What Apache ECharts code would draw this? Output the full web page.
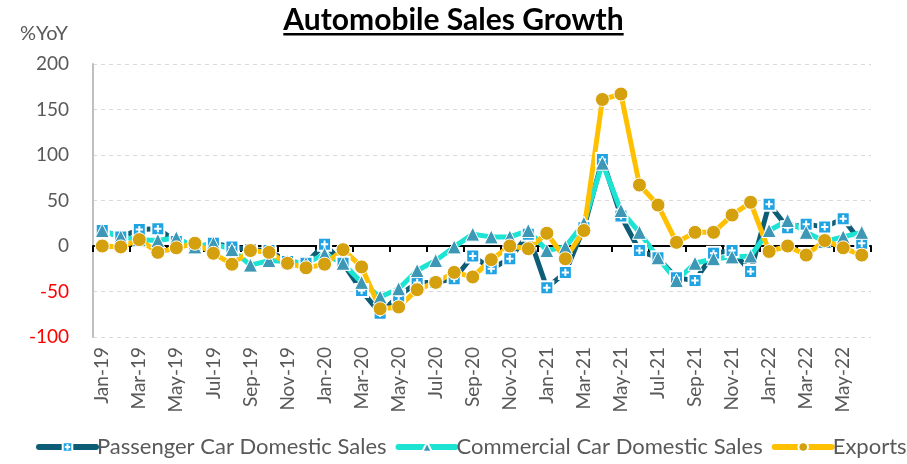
<!DOCTYPE html>
<html>
<head>
<meta charset="utf-8">
<script src="https://cdn.jsdelivr.net/npm/echarts@6/dist/echarts.min.js"></script>
<style>
html, body { margin: 0; padding: 0; background: #fff; }
#chart { width: 907px; height: 464px; }
</style>
</head>
<body>
<div id="chart"></div>
<script>
// months, Jan-19 .. Jun-22
var months = ['Jan-19','Feb-19','Mar-19','Apr-19','May-19','Jun-19','Jul-19','Aug-19','Sep-19','Oct-19','Nov-19','Dec-19',
    'Jan-20','Feb-20','Mar-20','Apr-20','May-20','Jun-20','Jul-20','Aug-20','Sep-20','Oct-20','Nov-20','Dec-20',
    'Jan-21','Feb-21','Mar-21','Apr-21','May-21','Jun-21','Jul-21','Aug-21','Sep-21','Oct-21','Nov-21','Dec-21',
    'Jan-22','Feb-22','Mar-22','Apr-22','May-22','Jun-22'];

// %YoY
var passenger = [17, 10, 18, 19, 5, -2, 3, -1, -4, -5, -17, -19,
    2, -19, -49, -74, -55, -40, -40, -36, -11, -25, -14, 13,
    -46, -29, 20, 95, 33, -5, -13, -35, -38, -8, -5, -28,
    46, 20, 24, 21, 30, 3];
var commercial = [17, 10, 7, 6, 9, -1, 3, -4, -21, -16, -17, -19,
    -9, -19, -40, -56, -47, -27, -16, -1, 13, 10, 10, 17,
    -5, -1, 25, 91, 39, 15, -13, -38, -19, -14, -12, -11,
    17, 28, 15, 5, 10, 15];
var exportsYoY = [0, -1, 7, -7, -2, 3, -8, -20, -5, -7, -19, -24,
    -20, -4, -23, -69, -67, -48, -40, -29, -34, -15, 0, -3,
    14, -14, 17, 161, 167, 67, 45, 4, 15, 15, 34, 48,
    -6, 0, -10, 6, -2, -10];

var yTicks = { min: -100, max: 200, step: 50 };

var FONT = 'Lato';
// blue square, the white plus comes from the border stroke
var plusBox = 'path://M0,0L10,0L10,10L0,10Z M5,2.2L5,7.8 M2.2,5L7.8,5';

// title width -> underline
var titleText = 'Automobile Sales Growth';
var titleSize = 30;
var mctx = document.createElement('canvas').getContext('2d');
mctx.font = 'bold ' + titleSize + 'px ' + FONT;
var titleW = mctx.measureText(titleText).width;

var chart = echarts.init(document.getElementById('chart'));

var option = {
    backgroundColor: '#fff',
    animation: false,
    title: [
        {
            text: titleText,
            left: 'center',
            top: 0,
            textStyle: { fontFamily: FONT, fontSize: titleSize, fontWeight: 'bold', color: '#000' }
        },
        {
            text: '%YoY',
            left: 15,
            top: 19,
            textStyle: { fontFamily: FONT, fontSize: 20, fontWeight: 'normal', color: '#595959' }
        }
    ],
    graphic: [
        {
            type: 'rect',
            shape: { x: 453.5 - titleW / 2, y: 33, width: titleW, height: 2.5 },
            style: { fill: '#000' }
        }
    ],
    legend: {
        bottom: 6,
        left: 36,
        width: 1000,
        padding: 0,
        itemWidth: 57,
        itemHeight: 12,
        itemGap: 9,
        lineStyle: { width: 6, cap: 'round' },
        textStyle: { fontFamily: FONT, fontSize: 22, color: '#595959', padding: [0, 0, 0, -4] },
        data: ['Passenger Car Domestic Sales', 'Commercial Car Domestic Sales', 'Exports']
    },
    grid: { left: 93, right: 36, top: 64, bottom: 127 },
    xAxis: [
        {
            type: 'category',
            data: months,
            boundaryGap: true,
            axisLine: { show: false, onZero: false },
            axisTick: { show: false },
            axisLabel: {
                interval: 1,
                rotate: 90,
                margin: 10,
                fontFamily: FONT,
                fontSize: 19,
                color: '#595959'
            },
            splitLine: { show: false }
        },
        {
            type: 'category',
            data: months,
            boundaryGap: true,
            position: 'bottom',
            axisLine: { show: true, onZero: true, onZeroAxisIndex: 0, lineStyle: { color: '#000', width: 2 } },
            axisTick: { show: true, interval: 1, length: 6, lineStyle: { color: '#000', width: 2 } },
            axisLabel: { show: false },
            splitLine: { show: false }
        }
    ],
    yAxis: {
        type: 'value',
        min: yTicks.min,
        max: yTicks.max,
        interval: yTicks.step,
        axisLine: { show: true, lineStyle: { color: '#BFBFBF', width: 2 } },
        axisTick: { show: false },
        axisLabel: {
            margin: 24,
            fontFamily: FONT,
            fontSize: 19,
            color: function (v) { return Number(v) < 0 ? '#FF0000' : '#595959'; }
        },
        splitLine: { show: true, lineStyle: { color: '#D9D9D9', width: 1, type: [4, 4] } }
    },
    series: [
        {
            name: 'Passenger Car Domestic Sales',
            type: 'line',
            data: passenger,
            symbol: plusBox,
            symbolSize: 13,
            showAllSymbol: true,
            lineStyle: { color: '#0E5D77', width: 5, join: 'round', cap: 'round' },
            itemStyle: { color: '#1FA3E3', borderColor: '#fff', borderWidth: 2 }
        },
        {
            name: 'Commercial Car Domestic Sales',
            type: 'line',
            data: commercial,
            symbol: 'triangle',
            symbolSize: 14,
            showAllSymbol: true,
            lineStyle: { color: '#1DE3D3', width: 5, join: 'round', cap: 'round' },
            itemStyle: { color: '#3E97B5', borderColor: '#fff', borderWidth: 1 }
        },
        {
            name: 'Exports',
            type: 'line',
            data: exportsYoY,
            symbol: 'circle',
            symbolSize: 14,
            showAllSymbol: true,
            lineStyle: { color: '#FFC000', width: 5, join: 'round', cap: 'round' },
            itemStyle: { color: '#D4A00E', borderColor: '#fff', borderWidth: 1 }
        }
    ]
};

chart.setOption(option);
</script>
</body>
</html>
